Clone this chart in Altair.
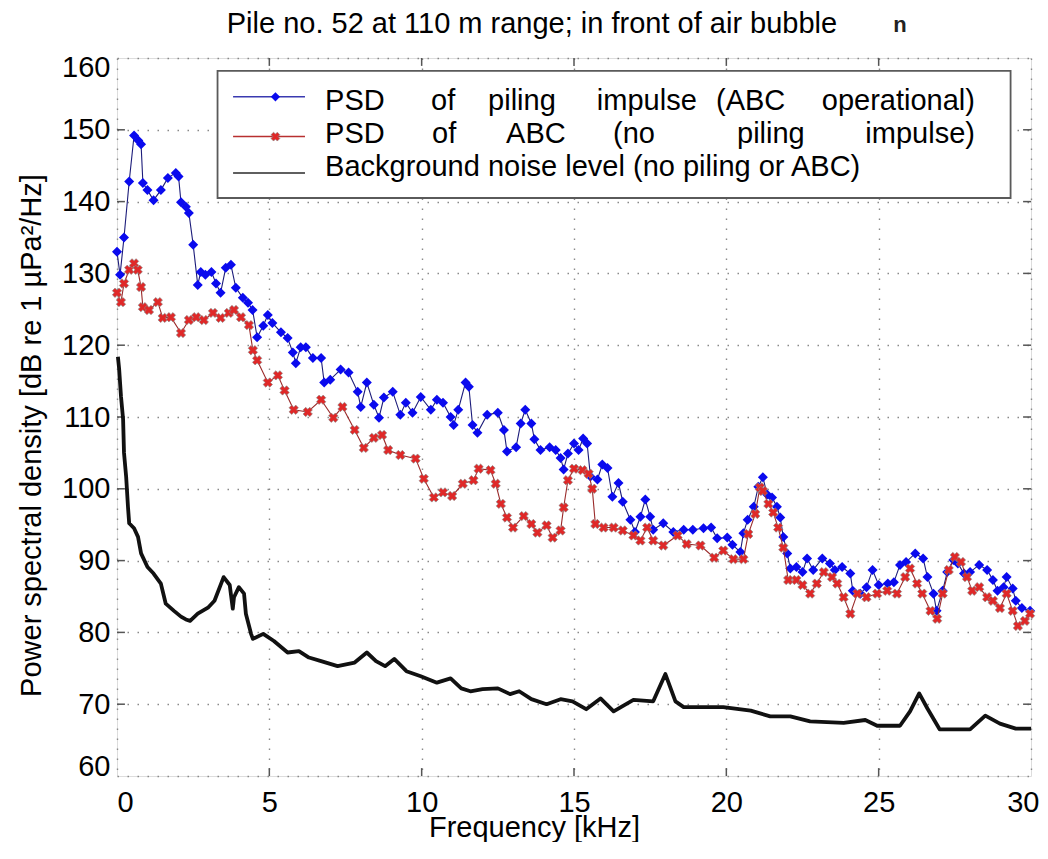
import altair as alt
import pandas as pd

FONT = "Liberation Sans"

# ---- data ----
blue_f = [0.0, 0.1, 0.23, 0.4, 0.56, 0.7, 0.79, 0.85, 1.0, 1.2, 1.44, 1.67, 1.93, 2.02, 2.1, 2.26, 2.36, 2.5, 2.65, 2.75,
          2.9, 3.1, 3.25, 3.4, 3.57, 3.74, 3.9, 4.13, 4.3, 4.45, 4.6, 4.8, 4.95, 5.1, 5.38, 5.6, 5.77, 5.87, 6.03, 6.2,
          6.43, 6.7, 6.8, 7.0, 7.34, 7.6, 7.9, 8.0, 8.2, 8.43, 8.6, 8.76, 9.05, 9.3, 9.48, 9.7, 9.97, 10.3, 10.5, 10.7,
          10.95, 11.05, 11.2, 11.44, 11.55, 11.67, 11.83, 12.15, 12.5, 12.7, 12.8, 13.1, 13.25, 13.4, 13.6, 13.7, 13.9,
          14.2, 14.4, 14.56, 14.66, 14.8, 15.0, 15.15, 15.3, 15.43, 15.54, 15.77, 15.93, 16.1, 16.26, 16.46, 16.6, 16.85,
          17.0, 17.18, 17.34, 17.5, 17.6, 17.93, 18.26, 18.6, 18.9, 19.25, 19.5, 19.7, 20.03, 20.2, 20.46, 20.56, 20.7,
          20.9, 21.05, 21.2, 21.34, 21.5, 21.66, 21.77, 21.87, 22.0, 22.1, 22.3, 22.5, 22.65, 22.85, 23.15, 23.4, 23.56,
          23.8, 24.07, 24.15, 24.4, 24.6, 24.8, 25.0, 25.3, 25.5, 25.7, 25.9, 26.2, 26.46, 26.6, 26.8, 26.9, 27.1, 27.25,
          27.45, 27.6, 27.8, 28.0, 28.3, 28.56, 28.75, 28.9, 29.1, 29.2, 29.4, 29.5, 29.7, 29.97]
blue_db = [133.0, 129.8, 135.0, 142.8, 149.2, 148.5, 148.0, 142.6, 141.6, 140.2, 141.6, 143.3, 144.0, 143.5, 139.9, 139.3,
           138.4, 134.0, 128.4, 130.2, 129.8, 130.2, 128.6, 127.3, 130.8, 131.2, 128.0, 126.6, 125.9, 124.9, 121.1, 122.7,
           124.2, 123.1, 121.8, 121.0, 119.0, 117.5, 119.7, 119.7, 118.2, 118.2, 114.8, 115.2, 116.6, 116.2, 113.5, 111.4,
           114.8, 111.7, 109.9, 112.7, 113.5, 110.3, 112.0, 110.6, 112.8, 111.0, 112.4, 112.0, 110.0, 108.9, 111.0, 114.8,
           114.2, 108.9, 107.8, 110.3, 110.6, 108.2, 105.2, 105.8, 109.1, 111.0, 109.1, 106.9, 105.4, 105.8, 105.4, 104.3,
           102.7, 104.9, 106.3, 105.4, 107.0, 106.3, 101.7, 101.3, 103.4, 102.9, 98.9, 100.8, 98.2, 95.7, 94.0, 96.1, 98.5,
           96.1, 94.3, 95.2, 94.0, 94.3, 94.3, 94.5, 94.6, 93.1, 93.2, 92.2, 91.2, 93.8, 95.7, 97.5, 100.3, 101.6, 99.2,
           98.8, 97.5, 96.0, 93.3, 91.0, 88.9, 89.1, 88.4, 90.3, 88.7, 90.3, 89.6, 88.7, 89.1, 88.2, 85.8, 85.4, 86.3,
           88.7, 86.6, 86.8, 87.0, 89.4, 89.8, 91.0, 90.3, 87.7, 85.4, 83.0, 85.8, 88.4, 90.1, 89.6, 88.2, 88.4, 89.4,
           88.7, 87.3, 85.8, 86.3, 87.7, 86.1, 84.4, 83.4, 83.0]

red_f = [0.0, 0.13, 0.23, 0.4, 0.56, 0.68, 0.79, 0.85, 1.05, 1.34, 1.5, 1.77, 2.1, 2.36, 2.6, 2.85, 3.15, 3.4, 3.67, 3.84,
         4.07, 4.33, 4.46, 4.6, 4.95, 5.28, 5.5, 5.8, 6.26, 6.7, 7.1, 7.4, 7.8, 8.1, 8.43, 8.7, 8.9, 9.3, 9.8, 10.07,
         10.4, 10.7, 11.0, 11.35, 11.7, 11.87, 12.26, 12.43, 12.6, 12.8, 13.0, 13.35, 13.6, 13.8, 14.1, 14.3, 14.56,
         14.66, 14.8, 15.0, 15.28, 15.48, 15.6, 15.7, 15.97, 16.3, 16.6, 16.95, 17.18, 17.4, 17.6, 17.93, 18.4, 18.7,
         19.15, 19.6, 19.9, 20.23, 20.56, 20.72, 20.95, 21.1, 21.2, 21.38, 21.54, 21.7, 21.87, 22.03, 22.3, 22.5, 22.75,
         22.97, 23.2, 23.47, 23.64, 23.85, 24.07, 24.3, 24.6, 24.95, 25.28, 25.6, 25.87, 26.03, 26.26, 26.43, 26.7,
         26.92, 27.1, 27.3, 27.5, 27.7, 27.9, 28.07, 28.3, 28.56, 28.75, 28.98, 29.2, 29.4, 29.57, 29.8, 29.97]
red_db = [127.3, 126.0, 128.6, 130.5, 131.4, 130.5, 128.1, 125.3, 124.9, 126.0, 123.8, 123.9, 121.7, 123.5, 123.9, 123.5,
          124.5, 123.8, 124.5, 124.9, 123.9, 122.8, 119.3, 117.9, 114.8, 115.8, 113.7, 111.0, 110.7, 112.4, 109.9, 111.4,
          108.2, 105.7, 107.1, 107.5, 105.4, 104.7, 104.2, 101.4, 98.8, 99.5, 99.0, 100.7, 101.2, 102.8, 102.6, 100.7,
          97.9, 96.0, 94.6, 96.2, 95.1, 93.9, 94.9, 93.2, 94.2, 97.4, 101.2, 102.8, 102.6, 102.1, 100.0, 95.1, 94.6,
          94.6, 94.2, 93.5, 92.8, 94.6, 92.8, 92.1, 93.5, 92.3, 92.1, 90.4, 91.4, 90.2, 90.2, 93.7, 96.5, 100.2, 99.7,
          97.9, 96.7, 94.6, 91.8, 87.3, 87.3, 86.6, 85.4, 86.8, 88.4, 87.7, 86.8, 84.9, 82.6, 85.4, 84.9, 85.4, 85.8,
          85.4, 87.7, 88.9, 86.8, 85.4, 83.0, 81.9, 85.4, 88.7, 90.5, 89.8, 87.7, 85.8, 86.3, 84.9, 84.4, 83.4, 85.4,
          83.0, 80.9, 81.6, 82.6]

bg_f = [0.03, 0.07, 0.13, 0.2, 0.23, 0.3, 0.36, 0.4, 0.56, 0.69, 0.79, 1.0, 1.2, 1.44, 1.6, 1.87, 2.1, 2.26, 2.4, 2.65,
        3.0, 3.2, 3.5, 3.7, 3.8, 3.84, 4.0, 4.17, 4.23, 4.4, 4.46, 4.8, 5.15, 5.6, 5.97, 6.3, 6.7, 7.24, 7.8, 8.2, 8.5,
        8.8, 9.1, 9.5, 9.97, 10.5, 10.95, 11.3, 11.6, 12.0, 12.5, 12.9, 13.2, 13.6, 14.1, 14.56, 14.95, 15.4, 15.87,
        16.3, 16.95, 17.6, 18.0, 18.33, 18.6, 19.9, 20.8, 21.44, 22.1, 22.75, 23.85, 24.56, 24.95, 25.7, 26.03, 26.33,
        26.6, 27.0, 28.0, 28.5, 28.98, 29.5, 30.0]
bg_db = [118.4, 116.7, 112.9, 109.7, 105.0, 101.7, 97.5, 95.2, 94.5, 93.3, 91.0, 89.1, 88.2, 86.8, 84.0, 83.0, 82.2, 81.8,
         81.6, 82.6, 83.5, 84.4, 87.7, 86.6, 83.3, 84.9, 86.3, 85.4, 82.6, 79.8, 79.1, 79.8, 78.8, 77.2, 77.4, 76.5,
         76.0, 75.3, 75.8, 77.2, 76.0, 75.3, 76.3, 74.6, 73.9, 73.0, 73.6, 72.2, 71.8, 72.1, 72.2, 71.4, 71.8, 70.7,
         70.0, 70.7, 70.4, 69.3, 70.8, 69.0, 70.6, 70.4, 74.2, 70.4, 69.6, 69.6, 69.1, 68.3, 68.3, 67.6, 67.4, 67.8,
         67.0, 67.0, 69.0, 71.5, 69.4, 66.5, 66.5, 68.4, 67.3, 66.6, 66.6]

x_ticks = [0, 5, 10, 15, 20, 25, 30]
y_ticks = [60, 70, 80, 90, 100, 110, 120, 130, 140, 150, 160]

series_names = ["PSD of piling impulse (ABC operational)", "PSD of ABC (no piling impulse)",
                "Background noise level (no piling or ABC)"]

# legend (placed in data coordinates of the plot)
legend_box = {"f": [3.30], "f2": [29.33], "db": [158.2], "db2": [140.5]}
legend_sample_f = [3.81, 6.17]
legend_sample_db = [154.6, 149.05, 144.0]
legend_marker_f = 5.2
legend_words_left = ["PSD", "of", "piling", "impulse", "(ABC",
                     "PSD", "of", "ABC", "(no", "piling",
                     "Background noise level (no piling or ABC)"]
legend_words_left_f = [6.83, 10.31, 12.18, 15.75, 19.66,
                       6.83, 10.34, 12.77, 16.28, 20.35,
                       6.83]
legend_words_left_db = [152.7, 152.7, 152.7, 152.7, 152.7,
                        148.1, 148.1, 148.1, 148.1, 148.1,
                        143.5]
legend_words_right = ["operational)", "impulse)"]
legend_words_right_f = [28.16, 28.16]
legend_words_right_db = [152.7, 148.1]

title_text = {"t": ["Pile no. 52 at 110 m range; in front of air bubble"], "f": [13.62], "db": [163.5]}
stray_mark = {"t": ["n"], "f": [25.7], "db": [164.6]}

# ---- tables ----
blue = pd.DataFrame({"f": blue_f, "db": blue_db, "s": series_names[0]})
red = pd.DataFrame({"f": red_f, "db": red_db, "s": series_names[1]})
bg = pd.DataFrame({"f": bg_f, "db": bg_db, "s": series_names[2]})

xs = alt.Scale(domain=[0, 30], nice=False, zero=False)
ys = alt.Scale(domain=[60, 160], nice=False, zero=False)

x_axis = alt.Axis(
    values=x_ticks, format="d", title="Frequency [kHz]", grid=True, ticks=False, domain=False,
    gridDash=[1.5, 8.5], gridColor="#8a8a8a", gridWidth=1.4,
    labelFont=FONT, labelFontSize=29, labelColor="black", labelPadding=12,
    labelAlign={"condition": [{"test": "datum.value === 0", "value": "left"},
                              {"test": "datum.value === 30", "value": "right"}], "value": "center"},
    labelOffset={"condition": {"test": "datum.value === 30", "value": 8}, "value": 0},
    titleFont=FONT, titleFontSize=29, titleFontWeight="normal", titleColor="black",
    titleX=417, titleY=60, titleBaseline="alphabetic", titleAlign="center",
)
y_axis = alt.Axis(
    values=y_ticks, format="d", title="Power spectral density [dB re 1 µPa²/Hz]", grid=True, ticks=False,
    domain=False, gridDash=[1.5, 8.5], gridColor="#8a8a8a", gridWidth=1.4,
    labelFont=FONT, labelFontSize=29, labelColor="black", labelPadding=7, labelFlush=True, labelFlushOffset=5,
    titleFont=FONT, titleFontSize=29, titleFontWeight="normal", titleColor="black",
    titleAngle=270, titleX=-77, titleY=377, titleBaseline="alphabetic", titleAlign="center",
)

X = alt.X("f:Q", scale=xs, axis=x_axis)
Y = alt.Y("db:Q", scale=ys, axis=y_axis)

# inward ticks on all four sides
tick_len_f = 0.26
tick_len_db = 1.1
xt = pd.DataFrame({"f": x_ticks[1:-1]})
yt = pd.DataFrame({"db": y_ticks[1:-1]})
tick_color = "#555555"
ticks_bottom = alt.Chart(xt).mark_rule(color=tick_color, strokeWidth=1.5).encode(
    x=X, y=alt.datum(60, scale=ys), y2=alt.datum(60 + tick_len_db))
ticks_top = alt.Chart(xt).mark_rule(color=tick_color, strokeWidth=1.5).encode(
    x=X, y=alt.datum(160, scale=ys), y2=alt.datum(160 - tick_len_db))
ticks_left = alt.Chart(yt).mark_rule(color=tick_color, strokeWidth=1.5).encode(
    y=Y, x=alt.datum(0, scale=xs), x2=alt.datum(tick_len_f))
ticks_right = alt.Chart(yt).mark_rule(color=tick_color, strokeWidth=1.5).encode(
    y=Y, x=alt.datum(30, scale=xs), x2=alt.datum(30 - tick_len_f))

blue_line = alt.Chart(blue).mark_line(color="#1c1c7a", strokeWidth=1.1).encode(x=X, y=Y)
blue_pts = alt.Chart(blue).mark_point(shape="diamond", filled=True, size=100, color="#0a0aee", opacity=1).encode(x=X, y=Y)
red_line = alt.Chart(red).mark_line(color="#9a2a2a", strokeWidth=1.1).encode(x=X, y=Y)
red_pts = alt.Chart(red).mark_point(shape="cross", angle=45, filled=True, size=90, fill="#e02828",
                                    stroke="#8a8a8a", strokeWidth=0.6, opacity=1).encode(x=X, y=Y)
bg_line = alt.Chart(bg).mark_line(color="#111111", strokeWidth=3.8, strokeJoin="round").encode(x=X, y=Y)

# legend
lb = pd.DataFrame(legend_box)
legend_rect = alt.Chart(lb).mark_rect(fill="white", stroke="#5a5a5a", strokeWidth=1.8).encode(
    x=X, x2="f2", y=Y, y2="db2")
ls = pd.DataFrame({"f": [legend_sample_f[0]] * 3, "f2": [legend_sample_f[1]] * 3,
                   "db": legend_sample_db, "s": series_names})
lcol = alt.Scale(domain=series_names, range=["#3a3ab0", "#b83030", "#2a2a2a"])
lwid = alt.Scale(domain=series_names, range=[1.5, 1.5, 5])
legend_lines = alt.Chart(ls).mark_rule().encode(
    x=X, x2="f2", y=Y,
    color=alt.Color("s:N", scale=lcol, legend=None),
    strokeWidth=alt.StrokeWidth("s:N", scale=lwid, legend=None))
lm_blue = alt.Chart(pd.DataFrame({"f": [legend_marker_f], "db": [legend_sample_db[0]]})).mark_point(
    shape="diamond", filled=True, size=85, color="#0a0aee", opacity=1).encode(x=X, y=Y)
lm_red = alt.Chart(pd.DataFrame({"f": [legend_marker_f], "db": [legend_sample_db[1]]})).mark_point(
    shape="cross", angle=45, filled=True, size=80, fill="#e02828", stroke="#8a8a8a", strokeWidth=0.6,
    opacity=1).encode(x=X, y=Y)
lw_left = alt.Chart(pd.DataFrame({"t": legend_words_left, "f": legend_words_left_f, "db": legend_words_left_db})
                    ).mark_text(align="left", baseline="alphabetic", font=FONT, fontSize=29, color="black").encode(
    x=X, y=Y, text="t:N")
lw_right = alt.Chart(pd.DataFrame({"t": legend_words_right, "f": legend_words_right_f, "db": legend_words_right_db})
                     ).mark_text(align="right", baseline="alphabetic", font=FONT, fontSize=29, color="black").encode(
    x=X, y=Y, text="t:N")

title_mark = alt.Chart(pd.DataFrame(title_text)).mark_text(
    align="center", baseline="alphabetic", font=FONT, fontSize=29, color="black").encode(
    x=X, y=Y, text="t:N")
stray = alt.Chart(pd.DataFrame(stray_mark)).mark_text(
    align="center", baseline="middle", font=FONT, fontSize=22, fontWeight="bold", color="#222222").encode(
    x=X, y=Y, text="t:N")

chart = alt.layer(
    ticks_bottom, ticks_top, ticks_left, ticks_right,
    blue_line, blue_pts, red_line, red_pts, bg_line,
    legend_rect, legend_lines, lm_blue, lm_red, lw_left, lw_right, title_mark, stray,
).properties(
    width=914, height=718,
    autosize=alt.AutoSizeParams(type="none"),
    padding={"left": 109, "top": 50, "right": 9, "bottom": 66},
).configure_view(
    stroke="#555555", strokeWidth=1.6
).configure(
    font=FONT, background="white"
)

chart.save("out.html", embed_options={"renderer": "svg", "actions": False})
